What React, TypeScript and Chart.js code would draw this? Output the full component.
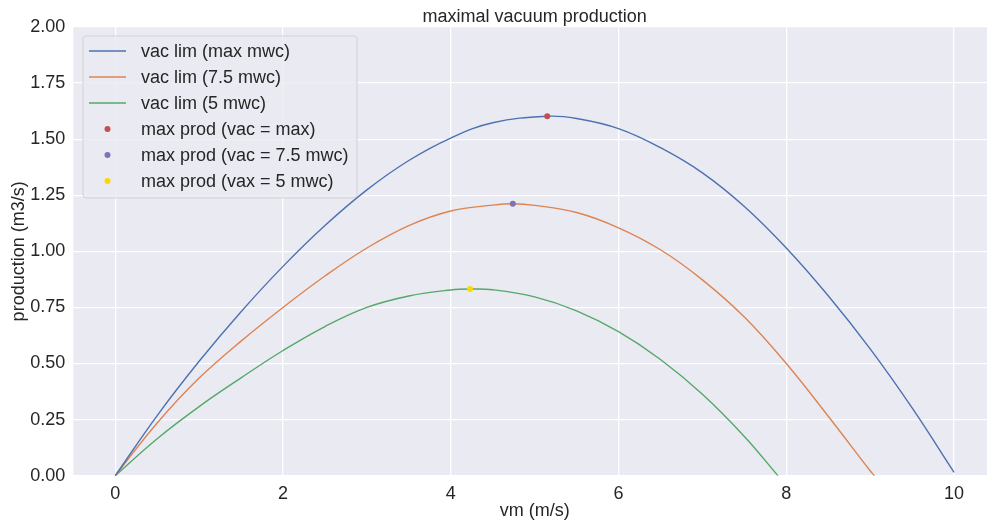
import React, { useEffect, useRef } from "react";
import { Chart, registerables } from "chart.js";

Chart.register(...registerables);

const TITLE = "maximal vacuum production";
const X_LABEL = "vm (m/s)";
const Y_LABEL = "production (m3/s)";

const X_TICK_STEP = 2;
const Y_TICK_STEP = 0.25;

// series: vacuum limit (max mwc)
const vmMax = [0, 0.5, 1, 1.5, 2, 2.5, 3, 3.5, 4, 4.5, 5.15, 5.5, 6, 6.5, 7, 7.5, 8, 8.5, 9, 9.5, 10];
const prodMax = [0, 0.268, 0.51, 0.731, 0.933, 1.115, 1.274, 1.405, 1.505, 1.573, 1.602, 1.592, 1.547, 1.462, 1.35, 1.2, 1.015, 0.802, 0.565, 0.302, 0.015];

// series: vacuum limit (7.5 mwc)
const vm75 = [0, 0.5, 1, 1.5, 2, 2.5, 3, 3.5, 4, 4.5, 4.74, 5, 5.5, 6, 6.5, 7, 7.5, 8, 8.5, 9, 9.05];
const prod75 = [0, 0.235, 0.435, 0.6, 0.75, 0.89, 1.015, 1.115, 1.18, 1.206, 1.212, 1.205, 1.173, 1.105, 1.007, 0.873, 0.707, 0.5, 0.265, 0.022, 0];

// series: vacuum limit (5 mwc)
const vm5 = [0, 0.5, 1, 1.5, 2, 2.5, 3, 3.5, 4, 4.23, 4.5, 5, 5.5, 6, 6.5, 7, 7.5, 7.9];
const prod5 = [0, 0.165, 0.308, 0.436, 0.558, 0.665, 0.75, 0.801, 0.828, 0.832, 0.829, 0.797, 0.735, 0.642, 0.518, 0.363, 0.175, 0];

// maximum production points
const peakLabels = ["max prod (vac = max)", "max prod (vac = 7.5 mwc)", "max prod (vax = 5 mwc)"];
const peakVm = [5.15, 4.74, 4.23];
const peakProd = [1.602, 1.212, 0.832];

const lineLabels = ["vac lim (max mwc)", "vac lim (7.5 mwc)", "vac lim (5 mwc)"];
const lineColors = ["#4C72B0", "#DD8452", "#55A868"];
const peakColors = ["#C44E52", "#8172B3", "#FFD700"];

const FONT = "'Liberation Sans', Arial, sans-serif";
const TEXT = "#262626";

const toPts = (xs: number[], ys: number[]) => xs.map((x, i) => ({ x, y: ys[i] }));

const textPlugin = {
  id: "textPlugin",
  beforeDraw(chart: any) {
    const { ctx, chartArea } = chart;
    ctx.save();
    ctx.fillStyle = "#EAEAF2";
    ctx.fillRect(chartArea.left, chartArea.top, chartArea.right - chartArea.left, chartArea.bottom - chartArea.top);
    ctx.restore();
  },
  afterDraw(chart: any) {
    const { ctx, chartArea } = chart;
    const cx = (chartArea.left + chartArea.right) / 2;
    const cy = (chartArea.top + chartArea.bottom) / 2;
    ctx.save();
    ctx.fillStyle = TEXT;
    ctx.font = `18px ${FONT}`;
    ctx.textAlign = "center";
    ctx.textBaseline = "alphabetic";
    ctx.fillText(TITLE, cx, 21.5);
    ctx.fillText(X_LABEL, cx, 515.5);
    ctx.save();
    ctx.translate(24, cy);
    ctx.rotate(-Math.PI / 2);
    ctx.fillText(Y_LABEL, 0, 0);
    ctx.restore();

    // legend
    const bx = 83, by = 36, bw = 274, bh = 162, r = 3;
    ctx.beginPath();
    ctx.moveTo(bx + r, by);
    ctx.lineTo(bx + bw - r, by);
    ctx.quadraticCurveTo(bx + bw, by, bx + bw, by + r);
    ctx.lineTo(bx + bw, by + bh - r);
    ctx.quadraticCurveTo(bx + bw, by + bh, bx + bw - r, by + bh);
    ctx.lineTo(bx + r, by + bh);
    ctx.quadraticCurveTo(bx, by + bh, bx, by + bh - r);
    ctx.lineTo(bx, by + r);
    ctx.quadraticCurveTo(bx, by, bx + r, by);
    ctx.closePath();
    ctx.fillStyle = "rgba(234,234,242,0.8)";
    ctx.fill();
    ctx.strokeStyle = "rgba(204,204,204,0.8)";
    ctx.lineWidth = 1;
    ctx.stroke();

    const ds = chart.data.datasets;
    ctx.textAlign = "left";
    ctx.textBaseline = "middle";
    ds.forEach((d: any, i: number) => {
      const y = 51 + 26 * i;
      if (d.showLine === false) {
        ctx.beginPath();
        ctx.arc(107.5, y, 3, 0, Math.PI * 2);
        ctx.fillStyle = d.pointBackgroundColor;
        ctx.fill();
      } else {
        ctx.beginPath();
        ctx.moveTo(89, y);
        ctx.lineTo(126, y);
        ctx.strokeStyle = d.borderColor;
        ctx.lineWidth = 1.4;
        ctx.stroke();
      }
      ctx.fillStyle = TEXT;
      ctx.fillText(d.label, 141, y + 1);
    });
    ctx.restore();
  },
};

export default function App() {
  const ref = useRef<HTMLCanvasElement>(null);
  useEffect(() => {
    const canvas = ref.current as HTMLCanvasElement;
    const lineSets = [
      [vmMax, prodMax],
      [vm75, prod75],
      [vm5, prod5],
    ].map(([xs, ys], i) => ({
      type: "line" as const,
      label: lineLabels[i],
      data: toPts(xs, ys),
      borderColor: lineColors[i],
      backgroundColor: lineColors[i],
      borderWidth: 1.4,
      pointRadius: 0,
      tension: 0.4,
      fill: false,
      order: 2,
    }));
    const peakSets = peakLabels.map((lab, i) => ({
      type: "scatter" as const,
      label: lab,
      data: [{ x: peakVm[i], y: peakProd[i] }],
      showLine: false,
      pointRadius: 3,
      pointBorderWidth: 0,
      pointBackgroundColor: peakColors[i],
      backgroundColor: peakColors[i],
      borderColor: peakColors[i],
      order: 1,
    }));
    const chart = new Chart(canvas, {
      type: "line",
      data: { datasets: [...lineSets, ...peakSets] as any },
      plugins: [textPlugin],
      options: {
        animation: false,
        responsive: false,
        devicePixelRatio: 1,
        layout: { padding: { top: 27, right: 3.7, left: 0, bottom: 0 } },
        plugins: { legend: { display: false }, tooltip: { enabled: false }, title: { display: false } },
        scales: {
          x: {
            type: "linear",
            min: -0.5,
            max: 10.5,
            afterFit: (s: any) => { s.height = 48.3; },
            grid: { color: "#FFFFFF", lineWidth: 1.3, drawTicks: false },
            border: { display: false },
            ticks: {
              stepSize: X_TICK_STEP,
              includeBounds: false,
              autoSkip: false,
              maxRotation: 0,
              padding: 8,
              color: TEXT,
              font: { family: FONT, size: 18 },
              callback: (v: any) => String(v),
            },
          },
          y: {
            type: "linear",
            min: 0,
            max: 2,
            afterFit: (s: any) => { s.width = 73.3; },
            grid: { color: "#FFFFFF", lineWidth: 1.3, drawTicks: false },
            border: { display: false },
            ticks: {
              stepSize: Y_TICK_STEP,
              padding: 8,
              color: TEXT,
              font: { family: FONT, size: 18 },
              callback: (v: any) => Number(v).toFixed(2),
            },
          },
        },
      } as any,
    });
    return () => chart.destroy();
  }, []);
  return (
    <div style={{ position: "absolute", left: 0, top: 0, width: 987, height: 524, overflow: "hidden", background: "#FFFFFF" }}>
      <canvas ref={ref} width={1000} height={524} style={{ display: "block", width: 1000, height: 524 }} />
    </div>
  );
}
